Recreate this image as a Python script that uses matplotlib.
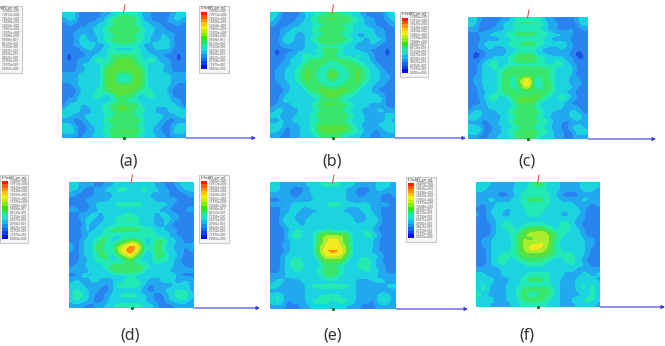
import numpy as np
import matplotlib
matplotlib.use('Agg')
import matplotlib.pyplot as plt
from matplotlib.colors import ListedColormap, BoundaryNorm
from matplotlib.patches import Rectangle

W, H = 665, 346

# field magnitude level per cell, 0 = lowest, 9 = highest
field_a = [
    "3331111122344443221111233",
    "2331111225566655221112332",
    "1211122334444444332211121",
    "1112223345666665433221111",
    "1122322334444444332232211",
    "1113322345566655432233111",
    "1122433223444443223343211",
    "1111232234333334322323111",
    "1011122334555554332211101",
    "1012224534566654345222101",
    "1112333345666665433332111",
    "1112233356666666533322111",
    "2223333356644466533333222",
    "2232333356633366533323222",
    "1123333356666666533333211",
    "1112333456666665443332111",
    "1113334533566553354333111",
    "1223433323444443233343221",
    "1333233345566555332333321",
    "3433123344566654433213343",
    "3322332334444444332332233",
    "2211233345666665433321122",
    "3321123334444444333211233",
    "3431122345566665432211343",
    "2221223334555554333221222",
]
field_b = [
    "3311112334455544332111133",
    "3211122345666666543221123",
    "2111223334444444333221112",
    "1122333345566655433332211",
    "1123322334444443322332211",
    "1133322345666665433233311",
    "1123222333444433322232111",
    "1011122334555543322111101",
    "1012234433455433344321101",
    "1112333455555555433321111",
    "1122334565543455654332111",
    "1223345655346435565433211",
    "1223345654366634565433221",
    "1223345655346435565433221",
    "1122334565543455654332211",
    "1112333456666666543321111",
    "1123343344566654433433211",
    "1133233333555533333233311",
    "1222333345666665433322211",
    "2332223334444443332223322",
    "3321233345666665433212233",
    "2232333344444444333232232",
    "3331223345666665432213333",
    "3321223345666666543221233",
    "2211223334555543332211222",
]
field_c = [
    "3321111223444443221111233",
    "3311112334555554322111133",
    "2211122233333333221112112",
    "1122333445666655433322111",
    "1112222333333333322221111",
    "1123333345566654433332111",
    "1122322233333332222322111",
    "1001222233555533222221001",
    "1012233345666654433322101",
    "1123453334444443335432111",
    "1123343455555555543343211",
    "1123334556444465543333111",
    "1223334553678635543332211",
    "1223334553689635543332221",
    "1123334554478544553333211",
    "1122334556444465543322111",
    "1123453345666665433543211",
    "1112333334666643333321111",
    "1222333334444443333322211",
    "2332223345666654332223321",
    "3432122334444443321223432",
    "2211223345666655432211222",
    "3331122333444433322113332",
    "3431122345566655432211343",
    "2211223334555543332211222",
]
field_d = [
    "3322211223333333322112333",
    "3321122334443344332211233",
    "2111123223333333223211112",
    "1212222233333333322222121",
    "1111233334444443333321111",
    "2211223333333333332211122",
    "1122332333344333323322111",
    "1123322334555533322332111",
    "1013223333333333322310111",
    "1123233456666654433232111",
    "1012333543333334533321101",
    "1123345533456543355433211",
    "2123355436789963455332122",
    "2123355437899873455332212",
    "1123345534789743355433211",
    "1122344533356333354432111",
    "1223333455555554333332211",
    "2222334356666653433322222",
    "1133233333333333332333111",
    "2322332223344433223332232",
    "3332222124444442122223332",
    "3433221123333321122334342",
    "3543211233444433211234543",
    "3433211233333332211233432",
    "2221122334444443321112222",
]
field_e = [
    "3322222333444433322223332",
    "3322111233333332211123322",
    "2222112233333332211222112",
    "1122222223333332222222111",
    "2212333344344443333321221",
    "1122332222333322223322111",
    "1123322233333333222332111",
    "1133322333333333322333111",
    "1123332333333333233332111",
    "1112343333343333334321111",
    "1013453336777776333543101",
    "1112333335688865333321111",
    "1122333336787876333332111",
    "1012333336899986333321101",
    "1123333335788875333333211",
    "1123453333666663335432111",
    "1123454333444433345432211",
    "1123343334566543333433211",
    "2223333333455433333332222",
    "2332223333333333322233322",
    "3321222344444444322212233",
    "2222212333333333321222222",
    "3432222333444433322223432",
    "3431222344443444322213432",
    "2221112233333332221112222",
]
field_f = [
    "3332222233355533322223333",
    "3322222333444433322223332",
    "2222111234444443211112222",
    "2233222334555543322223322",
    "2122333334444443333322212",
    "1123332333444433233332111",
    "2123322333444333322332121",
    "1122333333333333333322111",
    "1112345333444433354321111",
    "1112334435666654344332111",
    "1112333456778876543332111",
    "1223333457666775433333221",
    "1223333457788875433333221",
    "1123333456888765433333211",
    "1123344456666665444433211",
    "1123453345555543335432111",
    "1123343333444433333433211",
    "2222233333333333323322222",
    "3322233333444443332223323",
    "3333222334555543322233332",
    "3432223334444443322234343",
    "3432223345555554322234343",
    "4322223345444554322222343",
    "3433223345555543322334443",
    "3332222334444433322233332",
]
panel_fields = [field_a, field_b, field_c, field_d, field_e, field_f]
panel_tags = ["(a)", "(b)", "(c)", "(d)", "(e)", "(f)"]

legend_title = "E Field[V_per_m]"
legend_ticks = ["1.9000e+000", "1.7813e+000", "1.6625e+000", "1.5438e+000",
                "1.4250e+000", "1.3063e+000", "1.1875e+000", "1.0688e+000",
                "9.5000e-001", "8.3125e-001", "7.1250e-001", "5.9375e-001",
                "4.7500e-001", "3.5625e-001", "2.3750e-001", "1.1875e-001",
                "0.0000e+000"]

level_colors = ["#1c54e4", "#2a84f0", "#22a8ee", "#1cd4e0", "#22eab4",
                "#38e66c", "#58e03c", "#a8ee2c", "#f2ea1e", "#ff8a12"]
bar_colors = ["#ff1a00", "#ff5a00", "#ff9400", "#ffc800", "#f6f000", "#bff000",
              "#80f000", "#30e800", "#1ce860", "#1ce8a8", "#1cdcdc", "#18b8f0",
              "#1890f0", "#1468f0", "#1040f0", "#0010e8"]

# pixel boxes: left, right, top, bottom
panel_boxes = [(62, 186, 12, 138), (270, 395, 12, 138), (468, 588, 17, 139),
               (69, 194, 182, 308), (270, 396, 182, 309), (476, 600, 182, 307)]
arrow_ends = [256, 466, 656, 260, 468, 665]
tag_pos = [(129, 161), (332, 161), (527, 162), (130, 336), (333, 336), (527, 336)]
legend_boxes = [(-8, 22, 6, 73), (199, 229, 6, 73), (400, 428, 12, 77),
                (0, 28, 175, 243), (199, 229, 175, 243), (406, 436, 177, 242)]

plt.rcParams['font.family'] = ['Noto Sans', 'DejaVu Sans']
cmap = ListedColormap(level_colors)
norm = BoundaryNorm(np.arange(-0.5, 10.5, 1), cmap.N)

fig = plt.figure(figsize=(W / 100, H / 100), dpi=100)
ax = fig.add_axes([0, 0, 1, 1])
ax.set_xlim(0, W)
ax.set_ylim(H, 0)
ax.axis('off')

for rows, box, x_end, tag, pos in zip(panel_fields, panel_boxes, arrow_ends, panel_tags, tag_pos):
    left, right, top, bottom = box
    grid = np.array([[int(c) for c in r] for r in rows], dtype=float)
    ax.imshow(grid, extent=(left, right, bottom, top), cmap=cmap, norm=norm,
              interpolation='bicubic', interpolation_stage='data', aspect='auto', zorder=2)
    mid = (left + right) / 2
    # axis triad: x arrow, z stub, origin dot
    ax.annotate('', xy=(x_end, bottom), xytext=(right, bottom), zorder=3,
                arrowprops=dict(arrowstyle='-|>', color='#3a3ae0', lw=0.8, mutation_scale=5,
                                shrinkA=0, shrinkB=0))
    ax.plot([mid - 0.5, mid + 1], [top + 1, top - 7], color='#e04040', lw=0.7, zorder=3)
    ax.plot([mid], [bottom], 'o', color='#0a7a2a', ms=2.4, mew=0, zorder=4)
    ax.text(pos[0], pos[1], tag, ha='center', va='center', fontsize=11.5, color='#333333')

for left, right, top, bottom in legend_boxes:
    ax.add_patch(Rectangle((left, top), right - left, bottom - top, fc='#f6f6f6', ec='#c8c8c8',
                           lw=0.8, zorder=2))
    ax.text(left + 2, top + 2.5, legend_title, fontsize=2.3, va='center', color='#333333', zorder=3)
    bar_top = top + 5.5
    cell = (bottom - top - 10) / len(bar_colors)
    for i, c in enumerate(bar_colors):
        ax.add_patch(Rectangle((left + 1.5, bar_top + i * cell), 6.5, cell, fc=c, ec='none', zorder=3))
    for i, lab in enumerate(legend_ticks):
        ax.text(left + 9.5, bar_top + i * cell, lab, fontsize=2.2, va='center', color='#555555', zorder=3)

fig.savefig('out.png', dpi=100)
